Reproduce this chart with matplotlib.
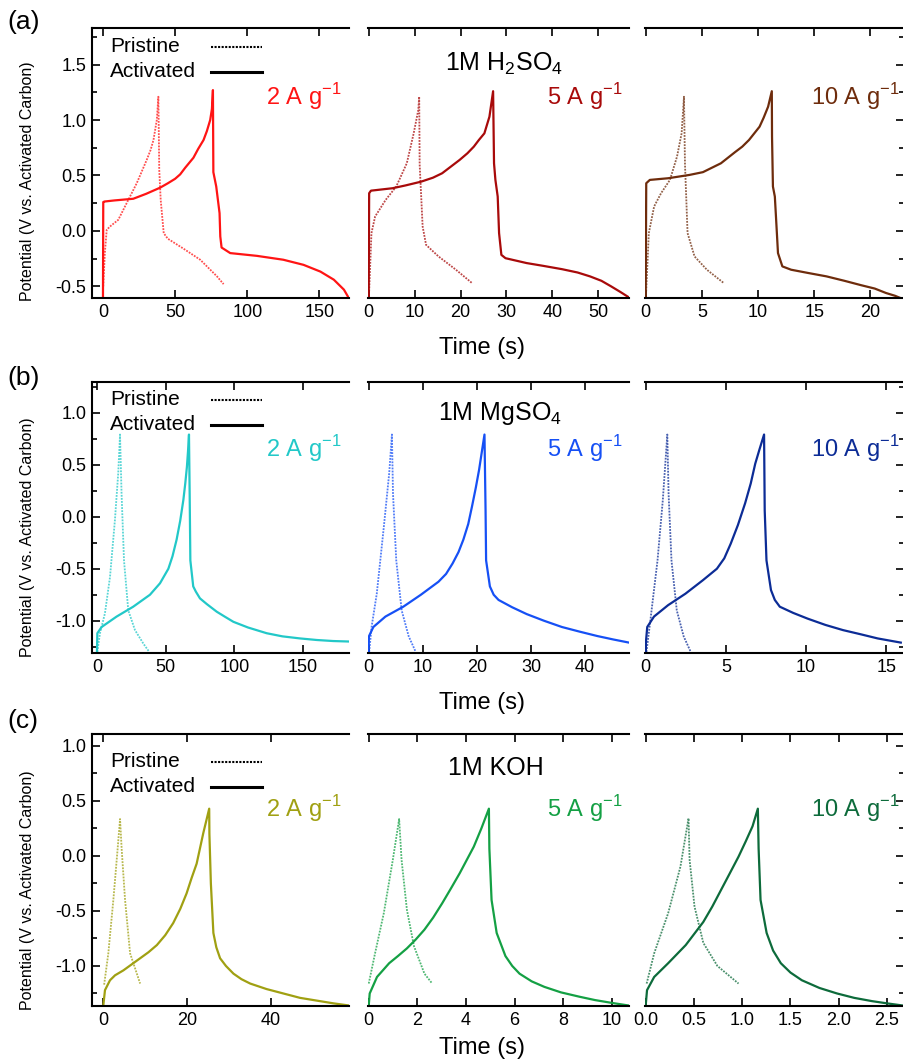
import matplotlib
matplotlib.use("Agg")
import matplotlib.pyplot as plt
from matplotlib.ticker import MultipleLocator

plt.rcParams['font.family'] = ['Liberation Sans', 'DejaVu Sans']
plt.rcParams['mathtext.fontset'] = 'custom'
plt.rcParams['mathtext.rm'] = 'Liberation Sans'
plt.rcParams['axes.unicode_minus'] = False

# -----------------------------
# DATA
# -----------------------------
# (a) 1M H2SO4
h2so4_2_act_t = [0, 0.2, 1, 8, 21, 30, 39.6, 45, 50, 53.5, 57, 62.7, 66, 69.7, 72, 74.3, 75.5, 76.2, 76.5, 78.5, 80.8, 81.3, 82.2, 88.2, 106.7, 125, 139, 150.7, 160, 167, 171]
h2so4_2_act_v = [-0.62, 0.26, 0.265, 0.275, 0.29, 0.335, 0.39, 0.43, 0.47, 0.51, 0.57, 0.66, 0.74, 0.82, 0.9, 1.0, 1.1, 1.27, 0.53, 0.40, 0.16, -0.05, -0.15, -0.2, -0.225, -0.26, -0.306, -0.367, -0.44, -0.53, -0.62]
h2so4_2_pri_t = [0.2, 1.3, 2.6, 4.9, 10.6, 16.4, 23.4, 30.3, 33, 35, 37.3, 38.4, 39, 40, 42.1, 44.9, 55.8, 67.4, 79, 83.6]
h2so4_2_pri_v = [-0.5, -0.2, 0.01, 0.04, 0.1, 0.25, 0.43, 0.64, 0.73, 0.82, 1.0, 1.21, 0.55, 0.28, -0.02, -0.07, -0.16, -0.26, -0.41, -0.48]

h2so4_5_act_t = [0, 0.1, 0.5, 5.2, 8, 11.4, 14, 16, 19.8, 21.5, 22.9, 24, 25.2, 26.3, 27.1, 27.3, 27.6, 28.1, 28.4, 28.9, 29.8, 34.4, 38, 42.1, 45.5, 48.2, 50.7, 52.8, 54.8, 56.7]
h2so4_5_act_v = [-0.61, 0.34, 0.363, 0.385, 0.41, 0.444, 0.48, 0.52, 0.64, 0.7, 0.76, 0.82, 0.88, 1.03, 1.26, 0.61, 0.46, 0.31, -0.02, -0.216, -0.246, -0.29, -0.315, -0.345, -0.375, -0.41, -0.45, -0.5, -0.55, -0.6]
h2so4_5_pri_t = [0.05, 0.6, 1.4, 3.7, 6.0, 8.3, 9.8, 10.8, 11.0, 11.1, 11.75, 12.5, 15.2, 19, 22.5]
h2so4_5_pri_v = [-0.6, -0.02, 0.13, 0.28, 0.40, 0.61, 0.88, 1.09, 1.21, 0.6, 0.04, -0.126, -0.23, -0.35, -0.47]

h2so4_10_act_t = [0, 0.05, 0.37, 2.0, 3.9, 5.1, 6.7, 7.95, 8.6, 9.2, 10.14, 10.5, 10.9, 11.23, 11.25, 11.33, 11.5, 11.6, 11.78, 12.17, 12.95, 14.5, 16.1, 17.7, 19.2, 20.4, 21.4, 22.2, 22.8]
h2so4_10_act_v = [-0.61, 0.43, 0.46, 0.475, 0.505, 0.53, 0.61, 0.71, 0.76, 0.82, 0.94, 1.02, 1.12, 1.26, 0.85, 0.40, 0.31, 0.13, -0.2, -0.32, -0.35, -0.38, -0.41, -0.45, -0.49, -0.52, -0.56, -0.585, -0.61]
h2so4_10_pri_t = [0.02, 0.28, 0.75, 1.37, 2.16, 2.79, 3.2, 3.41, 3.5, 3.73, 4.35, 5.45, 6.95]
h2so4_10_pri_v = [-0.6, -0.02, 0.22, 0.34, 0.46, 0.67, 0.88, 1.21, 0.6, -0.02, -0.23, -0.35, -0.47]

# (b) 1M MgSO4
mgso4_2_act_t = [0, 0.3, 3.4, 14.3, 26.4, 38.6, 45.9, 52, 55, 58, 60.6, 62.9, 64.3, 65.5, 66.3, 67, 67.5, 68, 70.1, 72, 75, 80, 87.2, 93, 99.3, 110, 123.6, 135, 147.9, 160, 172, 184.3]
mgso4_2_act_v = [-1.3, -1.12, -1.06, -0.96, -0.865, -0.75, -0.64, -0.50, -0.38, -0.22, -0.04, 0.16, 0.32, 0.48, 0.63, 0.79, 0.22, -0.42, -0.67, -0.72, -0.785, -0.84, -0.913, -0.96, -1.01, -1.065, -1.12, -1.15, -1.17, -1.185, -1.195, -1.2]
mgso4_2_pri_t = [0.3, 2.2, 5.8, 9.5, 13.1, 15.5, 16.8, 17.9, 19.7, 22.8, 27.7, 33.8, 38.1]
mgso4_2_pri_v = [-1.3, -1.12, -0.93, -0.58, -0.03, 0.42, 0.79, 0.23, -0.42, -0.90, -1.09, -1.22, -1.30]

mgso4_5_act_t = [0, 0.05, 0.87, 3.1, 6.4, 9.65, 12.9, 14.3, 15.5, 16.6, 17.5, 18.4, 19.1, 19.8, 20.4, 21.4, 21.6, 21.7, 22.4, 23.1, 24, 26.5, 29.2, 32.4, 35.7, 39, 42.25, 45.2, 48.1]
mgso4_5_act_v = [-1.3, -1.15, -1.06, -0.96, -0.865, -0.75, -0.625, -0.55, -0.45, -0.34, -0.22, -0.07, 0.10, 0.28, 0.45, 0.79, 0.06, -0.42, -0.67, -0.75, -0.80, -0.87, -0.936, -1.0, -1.06, -1.105, -1.147, -1.18, -1.21]
mgso4_5_pri_t = [0.1, 0.54, 1.5, 2.8, 3.8, 4.3, 4.5, 5.1, 6.1, 7.4, 8.7]
mgso4_5_pri_v = [-1.3, -1.06, -0.74, -0.1, 0.42, 0.79, 0.22, -0.42, -0.9, -1.15, -1.3]

mgso4_10_act_t = [0, 0.02, 0.1, 0.52, 1.4, 2.48, 3.57, 4.44, 4.9, 5.3, 5.75, 6.2, 6.55, 6.83, 7.1, 7.38, 7.42, 7.53, 7.81, 8.05, 8.36, 9.2, 10.1, 11.2, 12.3, 13.4, 14.46, 15.9]
mgso4_10_act_v = [-1.3, -1.2, -1.06, -0.96, -0.85, -0.74, -0.61, -0.50, -0.40, -0.26, -0.08, 0.13, 0.32, 0.51, 0.65, 0.79, 0.06, -0.42, -0.705, -0.8, -0.865, -0.925, -0.98, -1.04, -1.09, -1.13, -1.17, -1.21]
mgso4_10_pri_t = [0.05, 0.3, 0.74, 1.07, 1.35, 1.43, 1.61, 1.94, 2.37, 2.81]
mgso4_10_pri_v = [-1.3, -0.99, -0.42, 0.16, 0.79, 0.22, -0.42, -0.9, -1.15, -1.3]

# (c) 1M KOH
koh_2_act_t = [0, 0.4, 1.6, 2.8, 4.8, 6.8, 8.8, 10.8, 12.8, 14.8, 16.7, 18.4, 19.9, 21.1, 22.3, 23.1, 23.9, 24.6, 25.3, 25.35, 25.7, 26.3, 27, 27.9, 29.3, 31.1, 33, 35.1, 39, 43.0, 47, 51, 55, 58.8]
koh_2_act_v = [-1.36, -1.22, -1.13, -1.085, -1.04, -0.985, -0.93, -0.875, -0.81, -0.72, -0.61, -0.48, -0.34, -0.2, -0.07, 0.07, 0.21, 0.32, 0.43, 0.2, -0.25, -0.70, -0.83, -0.93, -1.0, -1.07, -1.12, -1.16, -1.21, -1.25, -1.29, -1.315, -1.34, -1.36]
koh_2_pri_t = [0.2, 1.2, 2.4, 3.4, 4.0, 4.4, 5.2, 6.4, 8.8]
koh_2_pri_v = [-1.17, -0.885, -0.40, 0.055, 0.336, 0.055, -0.40, -0.885, -1.16]

koh_5_act_t = [0, 0.04, 0.34, 0.84, 1.2, 1.57, 1.93, 2.29, 2.65, 3.02, 3.38, 3.74, 4.32, 4.63, 4.94, 4.96, 5.05, 5.26, 5.62, 5.9, 6.2, 6.7, 7.22, 7.9, 8.67, 9.3, 9.97, 10.7]
koh_5_act_v = [-1.36, -1.25, -1.10, -0.975, -0.91, -0.84, -0.76, -0.67, -0.56, -0.43, -0.295, -0.157, 0.085, 0.25, 0.43, 0.066, -0.40, -0.70, -0.91, -1.0, -1.07, -1.14, -1.19, -1.24, -1.28, -1.31, -1.335, -1.36]
koh_5_pri_t = [0, 0.26, 0.62, 0.99, 1.25, 1.35, 1.57, 1.86, 2.29, 2.61]
koh_5_pri_v = [-1.16, -0.885, -0.52, -0.036, 0.336, -0.036, -0.49, -0.82, -1.07, -1.16]

koh_10_act_t = [0, 0.014, 0.088, 0.233, 0.415, 0.597, 0.69, 0.78, 0.87, 0.962, 1.035, 1.107, 1.162, 1.17, 1.19, 1.253, 1.32, 1.40, 1.5, 1.618, 1.8, 1.982, 2.16, 2.346, 2.5, 2.666]
koh_10_act_v = [-1.36, -1.22, -1.10, -0.975, -0.81, -0.60, -0.46, -0.31, -0.16, -0.006, 0.13, 0.27, 0.43, 0.066, -0.40, -0.70, -0.86, -0.975, -1.06, -1.13, -1.2, -1.25, -1.29, -1.32, -1.34, -1.36]
koh_10_pri_t = [0.01, 0.088, 0.233, 0.36, 0.444, 0.455, 0.506, 0.597, 0.743, 0.962]
koh_10_pri_v = [-1.16, -0.885, -0.52, -0.097, 0.343, -0.036, -0.46, -0.79, -1.0, -1.16]

electrolytes = ["1M H$_\\mathregular{2}$SO$_\\mathregular{4}$", "1M MgSO$_\\mathregular{4}$", "1M KOH"]
panel_tags = ["(a)", "(b)", "(c)"]
rates = ["2", "5", "10"]
key_labels = ["Pristine", "Activated"]

curves = [
    [(h2so4_2_act_t, h2so4_2_act_v, h2so4_2_pri_t, h2so4_2_pri_v),
     (h2so4_5_act_t, h2so4_5_act_v, h2so4_5_pri_t, h2so4_5_pri_v),
     (h2so4_10_act_t, h2so4_10_act_v, h2so4_10_pri_t, h2so4_10_pri_v)],
    [(mgso4_2_act_t, mgso4_2_act_v, mgso4_2_pri_t, mgso4_2_pri_v),
     (mgso4_5_act_t, mgso4_5_act_v, mgso4_5_pri_t, mgso4_5_pri_v),
     (mgso4_10_act_t, mgso4_10_act_v, mgso4_10_pri_t, mgso4_10_pri_v)],
    [(koh_2_act_t, koh_2_act_v, koh_2_pri_t, koh_2_pri_v),
     (koh_5_act_t, koh_5_act_v, koh_5_pri_t, koh_5_pri_v),
     (koh_10_act_t, koh_10_act_v, koh_10_pri_t, koh_10_pri_v)],
]

colors = [
    ['#ff1414', '#a80a0a', '#6e2c0c'],
    ['#22c8c8', '#1650f5', '#0c2c96'],
    ['#a0a012', '#14a044', '#0d6b3b'],
]

xlims = [
    [(-7.6, 170.5), (-0.15, 56.7), (-0.06, 23.0)],
    [(-3.6, 183.5), (-0.12, 48.1), (-0.04, 16.1)],
    [(-2.7, 58.7), (-0.03, 10.7), (-0.007, 2.676)],
]
xsteps = [[50, 10, 5], [50, 10, 5], [20, 2, 0.5]]
ylims = [(-0.605, 1.83), (-1.31, 1.295), (-1.364, 1.109)]

# -----------------------------
# LAYOUT (pixels in a 904x1061 canvas)
# -----------------------------
W, H = 904, 1061
col_px = [(92, 349), (368, 629), (645, 904)]
row_px = [(28, 298), (382, 653), (734, 1006)]

tag_y = [22, 378, 721]
ylabel_y = [181, 537, 890]
time_y = [348, 703, 1048]
elec_pos = [(504, 71), (500, 420), (496, 775)]
rate_base = [105, 457, 817]
rate_right = [341, 622, 900]
key_base = [(52, 77), (405, 430), (767, 792)]

fig = plt.figure(figsize=(W / 100, H / 100), dpi=100)

for r in range(3):
    y0, y1 = row_px[r]
    for c in range(3):
        x0, x1 = col_px[c]
        ax = fig.add_axes([x0 / W, 1 - y1 / H, (x1 - x0) / W, (y1 - y0) / H])
        act_t, act_v, pri_t, pri_v = curves[r][c]
        col = colors[r][c]
        ax.plot(pri_t, pri_v, color=col, ls=(0, (1, 0.7)), lw=1.3, alpha=0.75)
        ax.plot(act_t, act_v, color=col, lw=1.6)

        ax.set_xlim(*xlims[r][c])
        ax.set_ylim(*ylims[r])
        ax.xaxis.set_major_locator(MultipleLocator(xsteps[r][c]))
        ax.yaxis.set_major_locator(MultipleLocator(0.5))
        ax.yaxis.set_minor_locator(MultipleLocator(0.25))

        for s in ax.spines.values():
            s.set_linewidth(1.5)
        ax.spines['right'].set_visible(False)
        ax.spines['left'].set_visible(c == 0)

        ax.tick_params(which='both', direction='in', top=True, bottom=True,
                       left=(c == 0), right=(c == 2), labelleft=(c == 0),
                       labelright=False, width=1.2)
        ax.tick_params(which='major', length=6, labelsize=13, pad=4)
        ax.tick_params(which='minor', length=3.5)
        ax.tick_params(axis='x', which='minor', top=False, bottom=False)

        fig.text(rate_right[c] / W, 1 - rate_base[r] / H,
                 rates[c] + " A g$^\\mathregular{-1}$", color=col,
                 fontsize=17, ha='right', va='baseline')

    # key: labels left-aligned, line samples to their right
    for k, (lab, base) in enumerate(zip(key_labels, key_base[r])):
        fig.text(110 / W, 1 - base / H, lab, fontsize=15, ha='left', va='baseline')
        ly = 1 - (base - 5) / H
        ls = (0, (1, 0.7)) if k == 0 else '-'
        lw = 1.5 if k == 0 else 2.2
        fig.add_artist(plt.Line2D([211 / W, 262 / W], [ly, ly], color='k',
                                  ls=ls, lw=lw, transform=fig.transFigure))

    fig.text(7 / W, 1 - tag_y[r] / H, panel_tags[r], fontsize=19,
             ha='left', va='center')
    fig.text(28 / W, 1 - ylabel_y[r] / H, "Potential (V vs. Activated Carbon)",
             fontsize=11.5, rotation=90, ha='center', va='center')
    fig.text(482 / W, 1 - time_y[r] / H, "Time (s)", fontsize=17,
             ha='center', va='center')
    fig.text(elec_pos[r][0] / W, 1 - elec_pos[r][1] / H, electrolytes[r],
             fontsize=18, ha='center', va='baseline')

fig.savefig("out.png", dpi=100)
